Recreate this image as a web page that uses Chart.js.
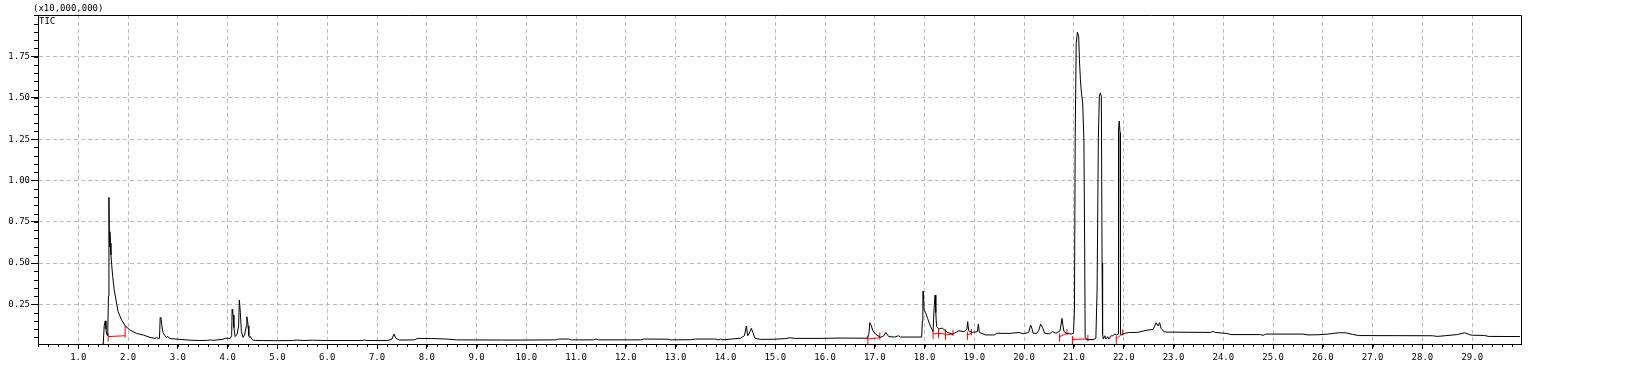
<!DOCTYPE html>
<html>
<head>
<meta charset="utf-8">
<script src="https://cdn.jsdelivr.net/npm/chart.js@4/dist/chart.umd.min.js"></script>
<style>
  html, body { margin: 0; padding: 0; background: #fff; }
  #wrap { width: 1626px; height: 381px; }
</style>
</head>
<body>
<div id="wrap"><canvas id="ticChart" width="1626" height="381"></canvas></div>
<script>
// retention time (min) and TIC intensity (x10,000,000)
const retTimes = [
    1.30, 1.45, 1.50, 1.52, 1.54, 1.555, 1.57, 1.59, 1.605, 1.615, 1.625, 1.635, 1.645, 1.655,
    1.67, 1.69, 1.72, 1.76, 1.80, 1.87, 1.94, 2.04, 2.17, 2.31, 2.44, 2.54, 2.57, 2.60, 2.63,
    2.645, 2.66, 2.675, 2.70, 2.74, 2.77, 2.80, 2.83, 2.88, 3.04, 3.24, 3.44, 3.60, 3.65, 3.70,
    3.90, 3.95, 4.05, 4.08, 4.09, 4.10, 4.11, 4.125, 4.15, 4.19, 4.22, 4.235, 4.245, 4.255,
    4.275, 4.31, 4.34, 4.37, 4.385, 4.40, 4.41, 4.425, 4.44, 4.46, 4.48, 4.52, 4.70, 5.00,
    5.30, 5.40, 5.50, 5.70, 6.00, 6.70, 6.75, 6.80, 7.20, 7.25, 7.30, 7.34, 7.38, 7.45, 7.75,
    7.82, 8.10, 8.40, 8.60, 9.50, 10.00, 10.60, 10.65, 10.85, 10.90, 11.35, 11.40, 11.45,
    12.30, 12.35, 12.85, 12.90, 13.30, 13.40, 13.80, 13.85, 13.90, 13.95, 14.00, 14.30, 14.38,
    14.42, 14.445, 14.47, 14.52, 14.55, 14.59, 14.70, 15.00, 15.20, 15.30, 15.40, 15.90, 16.10,
    16.30, 16.85, 16.88, 16.90, 16.93, 16.96, 17.02, 17.12, 17.18, 17.22, 17.28, 17.40, 17.47,
    17.52, 17.94, 17.955, 17.965, 17.975, 17.99, 18.02, 18.06, 18.12, 18.17, 18.19, 18.21,
    18.225, 18.24, 18.29, 18.33, 18.36, 18.46, 18.56, 18.69, 18.79, 18.85, 18.865, 18.885,
    18.96, 19.06, 19.08, 19.10, 19.22, 19.40, 19.45, 19.70, 19.90, 19.98, 20.09, 20.13, 20.16,
    20.18, 20.25, 20.29, 20.33, 20.37, 20.41, 20.51, 20.57, 20.64, 20.72, 20.76, 20.78, 20.80,
    20.85, 20.95, 20.99, 21.01, 21.025, 21.045, 21.07, 21.095, 21.11, 21.13, 21.15, 21.175,
    21.20, 21.215, 21.225, 21.26, 21.40, 21.44, 21.465, 21.49, 21.51, 21.53, 21.55, 21.565,
    21.575, 21.59, 21.62, 21.64, 21.68, 21.70, 21.75, 21.78, 21.82, 21.86, 21.885, 21.895,
    21.91, 21.925, 21.935, 21.96, 22.02, 22.12, 22.27, 22.47, 22.59, 22.65, 22.69, 22.72,
    22.75, 22.81, 22.87, 23.75, 23.79, 23.84, 24.07, 24.15, 24.75, 24.80, 24.85, 25.60, 25.70,
    25.90, 26.10, 26.32, 26.45, 26.60, 26.72, 28.20, 28.30, 28.45, 28.70, 28.85, 28.95, 29.00,
    29.25, 29.32, 29.96
];
const ticValues = [
    0.005, 0.005, 0.01, 0.12, 0.15, 0.10, 0.07, 0.06, 0.30, 0.898, 0.60, 0.69, 0.62, 0.55,
    0.49, 0.42, 0.34, 0.27, 0.205, 0.155, 0.12, 0.094, 0.074, 0.064, 0.05, 0.044, 0.05, 0.044, 0.045,
    0.17, 0.165, 0.13, 0.08, 0.06, 0.05, 0.056, 0.045, 0.042, 0.038, 0.033, 0.031, 0.032, 0.035, 0.032,
    0.038, 0.045, 0.044, 0.06, 0.22, 0.20, 0.185, 0.11, 0.055, 0.07, 0.12, 0.276, 0.276, 0.20,
    0.085, 0.05, 0.065, 0.114, 0.175, 0.15, 0.12, 0.06, 0.05, 0.055, 0.04, 0.032, 0.031, 0.03,
    0.031, 0.034, 0.031, 0.033, 0.031, 0.031, 0.034, 0.031, 0.031, 0.035, 0.04, 0.07, 0.045, 0.034, 0.035,
    0.044, 0.043, 0.04, 0.035, 0.034, 0.034, 0.035, 0.04, 0.04, 0.035, 0.035, 0.04, 0.035,
    0.035, 0.04, 0.039, 0.035, 0.036, 0.04, 0.04, 0.035, 0.04, 0.035, 0.037, 0.045, 0.06,
    0.119, 0.06, 0.07, 0.105, 0.08, 0.045, 0.038, 0.039, 0.043, 0.048, 0.044, 0.044, 0.045,
    0.046, 0.045, 0.07, 0.139, 0.12, 0.09, 0.068, 0.05, 0.06, 0.08, 0.055, 0.052, 0.06,
    0.052, 0.052, 0.15, 0.33, 0.33, 0.215, 0.20, 0.165, 0.115, 0.085, 0.226, 0.306,
    0.20, 0.115, 0.10, 0.105, 0.105, 0.08, 0.07, 0.09, 0.085, 0.10, 0.145, 0.09,
    0.08, 0.085, 0.13, 0.08, 0.065, 0.065, 0.075, 0.074, 0.08, 0.072, 0.08, 0.125, 0.10,
    0.075, 0.075, 0.09, 0.13, 0.11, 0.075, 0.072, 0.085, 0.075, 0.09, 0.165, 0.12, 0.085,
    0.075, 0.07, 0.075, 0.215, 1.265, 1.83, 1.898, 1.87, 1.73, 1.61, 1.53, 1.47,
    1.245, 0.60, 0.05, 0.036, 0.038, 0.045, 0.337, 1.255, 1.51, 1.53, 1.51, 0.50,
    0.07, 0.04, 0.06, 0.04, 0.055, 0.04, 0.06, 0.06, 0.07, 0.065, 0.07, 1.306,
    1.36, 1.29, 0.07, 0.065, 0.075, 0.08, 0.08, 0.094, 0.098, 0.139, 0.12, 0.139,
    0.105, 0.084, 0.082, 0.08, 0.087, 0.08, 0.074, 0.067, 0.067, 0.062, 0.07, 0.07, 0.065,
    0.066, 0.07, 0.078, 0.078, 0.068, 0.061, 0.06, 0.056, 0.06, 0.067, 0.078, 0.066, 0.063,
    0.062, 0.056, 0.055
];

// peak integration baselines (red marks)
const intStart      = [1.60, 16.86, 18.17, 18.28, 18.42, 18.86, 20.71, 20.97, 21.85];
const intStartLevel = [0.055, 0.04, 0.07, 0.075, 0.065, 0.065, 0.054, 0.038, 0.04];
const intEnd        = [1.94, 17.10, 18.28, 18.42, 18.57, 18.94, 20.86, 21.28, 21.98];
const intEndLevel   = [0.06, 0.048, 0.075, 0.07, 0.07, 0.075, 0.075, 0.04, 0.075];
const intEndTop     = [0.12, 0.08, 0.10, 0.10, 0.095, 0.10, 0.10, 0.065, 0.10];

const xTickStep = 1;
const xMinorStep = 0.2;
const yTickStep = 0.25;
const yMinorStep = 0.05;

const tracePoints = retTimes.map((t, i) => ({ x: t, y: ticValues[i] }));

const markPoints = [];
intStart.forEach((s, i) => {
    const e = intEnd[i];
    // start arrow
    markPoints.push({ x: s, y: intStartLevel[i] - 0.03 }, { x: s, y: intStartLevel[i] + 0.02 }, { x: s, y: null });
    // baseline
    markPoints.push({ x: s, y: intStartLevel[i] }, { x: e, y: intEndLevel[i] }, { x: e, y: null });
    // end arrow
    markPoints.push({ x: e, y: intEndLevel[i] - 0.012 }, { x: e, y: intEndTop[i] }, { x: e, y: null });
});

const MONO = '"DejaVu Sans Mono", monospace';

const framePlugin = {
    id: 'frame',
    afterDraw(chart) {
        const { ctx, chartArea: a, scales } = chart;
        const xs = scales.x, ys = scales.y;
        ctx.save();
        ctx.strokeStyle = '#000';
        ctx.lineWidth = 1;
        // top and right border
        ctx.beginPath();
        ctx.moveTo(a.left, a.top + 0.5);
        ctx.lineTo(a.right + 0.5, a.top + 0.5);
        ctx.lineTo(a.right + 0.5, a.bottom);
        ctx.stroke();
        // minor ticks
        ctx.beginPath();
        for (let v = Math.ceil(xs.min / xMinorStep) * xMinorStep; v <= xs.max; v += xMinorStep) {
            const px = Math.round(xs.getPixelForValue(v)) + 0.5;
            ctx.moveTo(px, a.bottom);
            ctx.lineTo(px, a.bottom + 3);
        }
        for (let v = Math.ceil(ys.min / yMinorStep) * yMinorStep; v <= ys.max; v += yMinorStep) {
            const py = Math.round(ys.getPixelForValue(v)) + 0.5;
            ctx.moveTo(a.left, py);
            ctx.lineTo(a.left - 4, py);
        }
        ctx.stroke();
        // texts
        ctx.fillStyle = '#000';
        ctx.font = '9px ' + MONO;
        ctx.textBaseline = 'middle';
        ctx.textAlign = 'left';
        ctx.fillText('(x10,000,000)', 33, 9);
        ctx.fillText('TIC', a.left + 1, a.top + 7);
        ctx.restore();
    }
};

const ctx = document.getElementById('ticChart').getContext('2d');
const ticChart = new Chart(ctx, {
    type: 'line',
    data: {
        datasets: [
            {
                label: 'TIC',
                data: tracePoints,
                borderColor: '#000000',
                borderWidth: 1,
                pointRadius: 0,
                tension: 0,
                fill: false,
            },
            {
                label: 'Integration',
                data: markPoints,
                borderColor: '#ff0000',
                borderWidth: 1,
                pointRadius: 0,
                tension: 0,
                spanGaps: false,
                fill: false,
            }
        ]
    },
    options: {
        responsive: false,
        animation: false,
        layout: { padding: { top: 15, right: 105, left: 0, bottom: 0 } },
        plugins: {
            legend: { display: false },
            tooltip: { enabled: false }
        },
        scales: {
            x: {
                type: 'linear',
                min: 0.19,
                max: 29.98,
                afterFit: s => { s.height = 37; },
                grid: { color: '#bdbdbd', tickColor: '#000', tickLength: 5 },
                border: { color: '#000', width: 1, dash: [4, 3] },
                ticks: {
                    stepSize: xTickStep,
                    includeBounds: false,
                    autoSkip: false,
                    maxRotation: 0,
                    padding: 3,
                    color: '#000',
                    font: { family: MONO, size: 9 },
                    callback: v => Number(v).toFixed(1)
                }
            },
            y: {
                min: 0.01,
                max: 2.002,
                afterFit: s => { s.width = 38; },
                afterBuildTicks: s => { s.ticks = s.ticks.filter(t => t.value < 1.9); },
                grid: { color: '#bdbdbd', tickColor: '#000', tickLength: 7 },
                border: { color: '#000', width: 1, dash: [4, 3] },
                ticks: {
                    stepSize: yTickStep,
                    includeBounds: false,
                    padding: 1,
                    color: '#000',
                    font: { family: MONO, size: 9 },
                    callback: v => Number(v).toFixed(2)
                }
            }
        }
    },
    plugins: [framePlugin]
});
</script>
</body>
</html>
